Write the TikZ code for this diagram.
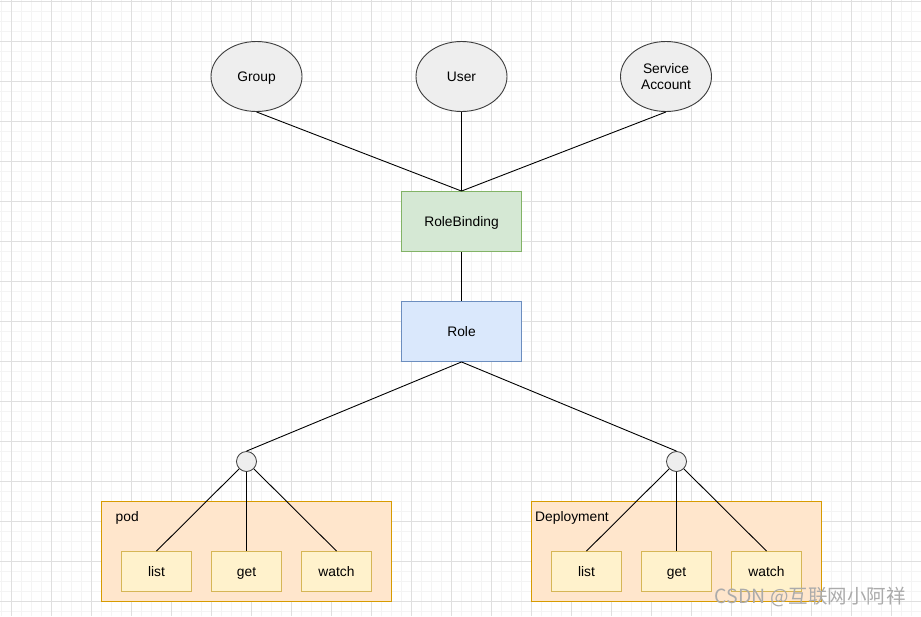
\documentclass[tikz,border=0pt]{standalone}
\usepackage{fontspec}
\setmainfont{Liberation Sans}
\newfontfamily\cjk{Noto Sans CJK SC}
\usetikzlibrary{shapes.geometric}
\definecolor{gridminor}{HTML}{F4F4F4}
\definecolor{gridmajor}{HTML}{DFDFDF}
\definecolor{ellfill}{HTML}{EEEEEE}
\definecolor{ellline}{HTML}{3C3C3C}
\definecolor{rbfill}{HTML}{D5E8D4}
\definecolor{rbline}{HTML}{82B366}
\definecolor{rolefill}{HTML}{DAE8FC}
\definecolor{roleline}{HTML}{6C8EBF}
\definecolor{contfill}{HTML}{FFE6CC}
\definecolor{contline}{HTML}{D79B00}
\definecolor{opfill}{HTML}{FFF2CC}
\definecolor{opline}{HTML}{D6B656}
\definecolor{wmark}{HTML}{ABABAB}
\tikzset{
  every node/.style={font=\fontsize{13.8}{16}\selectfont},
  oneline/.style={text height=12.5pt, text depth=2.5pt},
  ell/.style={ellipse, draw=ellline, fill=ellfill, line width=0.9pt, minimum width=91pt, minimum height=70pt, inner sep=0pt, align=center},
  rbbox/.style={draw=rbline, fill=rbfill, line width=0.9pt, minimum width=120pt, minimum height=60pt, inner sep=0pt, oneline},
  rolebox/.style={draw=roleline, fill=rolefill, line width=0.9pt, minimum width=120pt, minimum height=60pt, inner sep=0pt, oneline},
  junction/.style={circle, draw=ellline, fill=ellfill, line width=0.8pt, minimum size=20pt, inner sep=0pt},
  container/.style={draw=contline, fill=contfill, line width=0.9pt, minimum width=290pt, minimum height=100pt, inner sep=0pt},
  opbox/.style={draw=opline, fill=opfill, line width=0.9pt, minimum width=70pt, minimum height=40pt, inner sep=0pt, oneline},
  lbl/.style={anchor=base west, inner sep=0pt},
  link/.style={draw=black, line width=0.9pt},
}
\begin{document}
\begin{tikzpicture}[x=1pt,y=-1pt]
\useasboundingbox (0,0) rectangle (921,616);
\fill[white] (0,0) rectangle (921,616);
% grid
\foreach \i in {0,...,92} {\draw[gridminor, line width=0.6pt] ({1+10*\i},0) -- ({1+10*\i},616);}
\foreach \i in {0,...,61} {\draw[gridminor, line width=0.6pt] (0,{1+10*\i}) -- (921,{1+10*\i});}
\foreach \i in {0,...,22} {\draw[gridmajor, line width=0.8pt] ({11+40*\i},0) -- ({11+40*\i},616);}
\foreach \i in {0,...,15} {\draw[gridmajor, line width=0.8pt] (0,{1+40*\i}) -- (921,{1+40*\i});}

% top subjects
\node[ell, oneline] (group) at (256.5,76.5) {Group};
\node[ell, oneline] (user) at (461.5,76.5) {User};
\node[ell] (sa) at (666,76.5) {Service\\Account};

\node[rbbox] (rb) at (461.5,221.5) {RoleBinding};
\node[rolebox] (role) at (461.5,331.5) {Role};

\draw[link] (group.south) -- (rb.north);
\draw[link] (user.south) -- (rb.north);
\draw[link] (sa.south) -- (rb.north);
\draw[link] (rb.south) -- (role.north);

% containers
\node[container] (pod) at (246.5,551.5) {};
\node[lbl] (podlbl) at (115.5,521) {pod};
\node[container] (dep) at (676.5,551.5) {};
\node[lbl] (deplbl) at (535,521) {Deployment};

% junctions
\node[junction] (j1) at (246.5,461.5) {};
\node[junction] (j2) at (676.5,461.5) {};
\draw[link] (role.south) -- (j1.north);
\draw[link] (role.south) -- (j2.north);

% operations
\node[opbox] (l1) at (156.5,571.5) {list};
\node[opbox] (g1) at (246.5,571.5) {get};
\node[opbox] (w1) at (336.5,571.5) {watch};
\node[opbox] (l2) at (586.5,571.5) {list};
\node[opbox] (g2) at (676.5,571.5) {get};
\node[opbox] (w2) at (766.5,571.5) {watch};

\draw[link] (j1) -- (l1.north);
\draw[link] (j1) -- (g1.north);
\draw[link] (j1) -- (w1.north);
\draw[link] (j2) -- (l2.north);
\draw[link] (j2) -- (g2.north);
\draw[link] (j2) -- (w2.north);

% watermark
\node[anchor=east, inner sep=0pt, text=wmark, font=\cjk\fontsize{19.5}{20}\selectfont] (wm) at (906,597) {CSDN @互联网小阿祥};
\end{tikzpicture}
\end{document}
